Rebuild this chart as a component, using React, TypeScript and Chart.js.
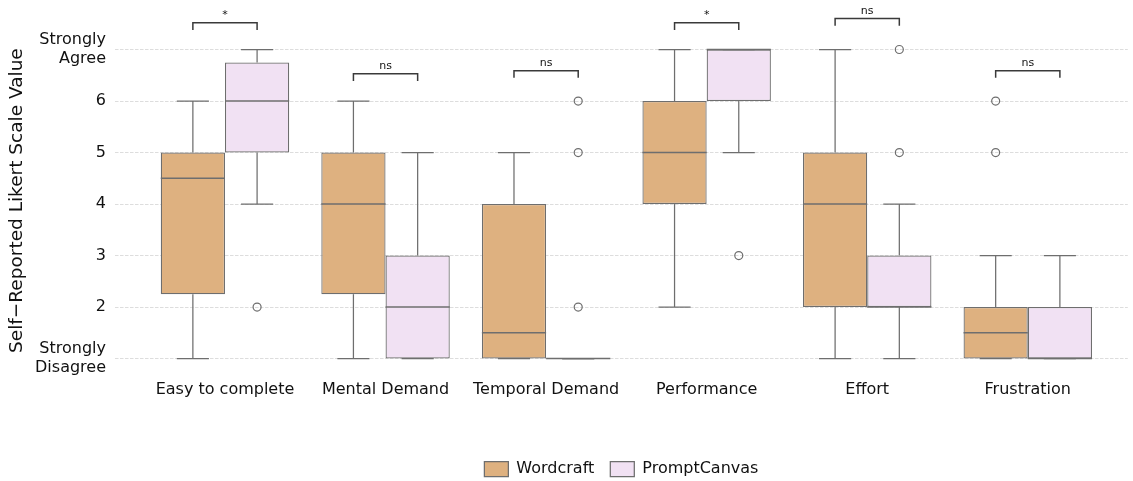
import React, { useEffect, useRef } from 'react';
import { Chart, registerables } from 'chart.js';

Chart.register(...registerables);

const categories = ['Easy to complete', 'Mental Demand', 'Temporal Demand', 'Performance', 'Effort', 'Frustration'];
const seriesNames = ['Wordcraft', 'PromptCanvas'];

const wordcraftLow = [1, 1, 1, 2, 1, 1];
const wordcraftQ1 = [2.25, 2.25, 1, 4, 2, 1];
const wordcraftMedian = [4.5, 4, 1.5, 5, 4, 1.5];
const wordcraftQ3 = [5, 5, 4, 6, 5, 2];
const wordcraftHigh = [6, 6, 5, 7, 7, 3];
const wordcraftOutliers = [[], [], [], [], [], [5, 6]];

const promptLow = [4, 1, 1, 5, 1, 1];
const promptQ1 = [5, 1, 1, 6, 2, 1];
const promptMedian = [6, 2, 1, 7, 2, 1];
const promptQ3 = [6.75, 3, 1, 7, 3, 2];
const promptHigh = [7, 5, 1, 7, 4, 3];
const promptOutliers = [[2], [], [2, 5, 6], [3], [5, 7], []];

const bracketY = [7.52, 6.53, 6.59, 7.52, 7.6, 6.59];
const bracketLabels = ['*', 'ns', 'ns', '*', 'ns', 'ns'];

const yTickValues = [1, 2, 3, 4, 5, 6, 7];
const yTickLabels: (string | string[])[] = [['Strongly', 'Disagree'], '2', '3', '4', '5', '6', ['Strongly', 'Agree']];

const FONT = 'DejaVu Sans';
const EDGE = '#6e6e6e';
const FILLS = ['#DEB180', '#F1E1F3'];
const GROUP = 0.8;
const seriesOffset = [-GROUP / 4, GROUP / 4];

const stats = [
  { low: wordcraftLow, q1: wordcraftQ1, med: wordcraftMedian, q3: wordcraftQ3, high: wordcraftHigh, out: wordcraftOutliers },
  { low: promptLow, q1: promptQ1, med: promptMedian, q3: promptQ3, high: promptHigh, out: promptOutliers },
];

const boxPlugin = {
  id: 'boxExtras',
  afterDatasetsDraw(chart: any) {
    const { ctx, scales } = chart;
    const y = scales.y;
    const line = (x1: number, y1: number, x2: number, y2: number) => {
      ctx.beginPath();
      ctx.moveTo(x1, y1);
      ctx.lineTo(x2, y2);
      ctx.stroke();
    };
    ctx.save();
    ctx.strokeStyle = EDGE;
    ctx.lineWidth = 1.25;
    stats.forEach((s, si) => {
      const meta = chart.getDatasetMeta(si);
      meta.data.forEach((bar: any, i: number) => {
        const { x: cx, width } = bar.getProps(['x', 'width'], true);
        const half = width / 2;
        const pHigh = y.getPixelForValue(s.high[i]);
        const pLow = y.getPixelForValue(s.low[i]);
        line(cx, y.getPixelForValue(s.q3[i]), cx, pHigh);
        line(cx, y.getPixelForValue(s.q1[i]), cx, pLow);
        line(cx - half / 2, pHigh, cx + half / 2, pHigh);
        line(cx - half / 2, pLow, cx + half / 2, pLow);
        ctx.lineWidth = 1.5;
        const pMed = y.getPixelForValue(s.med[i]);
        line(cx - half, pMed, cx + half, pMed);
        ctx.lineWidth = 1.25;
      });
    });
    ctx.restore();
  },
  afterDraw(chart: any) {
    const { ctx, scales } = chart;
    const { x, y } = scales;
    ctx.save();
    ctx.strokeStyle = '#3a3a3a';
    ctx.lineWidth = 1.5;
    ctx.fillStyle = '#111';
    ctx.font = `11px "${FONT}"`;
    ctx.textAlign = 'center';
    ctx.textBaseline = 'bottom';
    categories.forEach((_, i) => {
      const x1 = x.getPixelForValue(i + seriesOffset[0]);
      const x2 = x.getPixelForValue(i + seriesOffset[1]);
      const yb = y.getPixelForValue(bracketY[i]);
      const yl = y.getPixelForValue(bracketY[i] - 0.14);
      ctx.beginPath();
      ctx.moveTo(x1, yl);
      ctx.lineTo(x1, yb);
      ctx.lineTo(x2, yb);
      ctx.lineTo(x2, yl);
      ctx.stroke();
      ctx.fillText(bracketLabels[i], (x1 + x2) / 2, yb - 2);
    });
    ctx.restore();
  },
};

export default function App() {
  const ref = useRef<HTMLCanvasElement | null>(null);
  useEffect(() => {
    if (!ref.current) return;
    const boxDatasets = stats.map((s, si) => ({
      type: 'bar' as const,
      label: seriesNames[si],
      data: categories.map((_, i) => ({ x: i, y: [s.q1[i], s.q3[i]] })),
      backgroundColor: FILLS[si],
      borderColor: EDGE,
      borderWidth: 1.25,
      borderSkipped: false,
      categoryPercentage: GROUP,
      barPercentage: 1,
    }));
    const outlierDatasets = stats.map((s, si) => ({
      type: 'scatter' as const,
      label: seriesNames[si] + ' outliers',
      data: s.out.flatMap((vals, i) => vals.map((v) => ({ x: i + seriesOffset[si], y: v }))),
      pointRadius: 4,
      pointBorderWidth: 1.2,
      pointBorderColor: EDGE,
      pointBackgroundColor: 'rgba(255,255,255,0)',
      showLine: false,
    }));
    const chart = new Chart(ref.current, {
      type: 'bar',
      data: { datasets: [...boxDatasets, ...outlierDatasets] as any },
      options: {
        animation: false,
        responsive: false,
        layout: { padding: { left: 0, right: 0, top: 0, bottom: -6 } },
        plugins: {
          tooltip: { enabled: false },
          legend: {
            position: 'bottom',
            fullSize: false,
            labels: {
              filter: (item: any) => item.datasetIndex < 2,
              boxWidth: 24,
              boxHeight: 15,
              padding: 16,
              color: '#111',
              font: { family: FONT, size: 16 },
            },
          },
        },
        scales: {
          x: {
            type: 'linear',
            offset: false,
            min: -0.685,
            max: 5.623,
            grid: { display: false, drawTicks: false },
            border: { display: false },
            afterBuildTicks: (scale: any) => {
              scale.ticks = categories.map((_, i) => ({ value: i }));
            },
            afterFit: (scale: any) => {
              scale.height = 72;
            },
            ticks: {
              autoSkip: false,
              maxRotation: 0,
              padding: 7,
              color: '#111',
              font: { family: FONT, size: 16 },
              callback: (v: any) => categories[Math.round(Number(v))] ?? '',
            },
          },
          y: {
            type: 'linear',
            min: 0.72,
            max: 7.414,
            afterBuildTicks: (scale: any) => {
              scale.ticks = yTickValues.map((v) => ({ value: v }));
            },
            afterFit: (scale: any) => {
              scale.width = 115;
            },
            grid: { color: '#d4d4d4', lineWidth: 0.8, drawTicks: false },
            border: { display: false, dash: [3.5, 1.5] },
            ticks: {
              padding: 9,
              color: '#111',
              font: { family: FONT, size: 16 },
              callback: (_v: any, idx: number) => yTickLabels[idx],
            },
            title: {
              display: true,
              text: 'Self−Reported Likert Scale Value',
              color: '#111',
              font: { family: FONT, size: 18.5 },
              padding: { top: 6, bottom: 0 },
            },
          },
        },
      },
      plugins: [boxPlugin],
    } as any);
    return () => chart.destroy();
  }, []);
  return (
    <div style={{ position: 'absolute', left: 0, top: 0, width: 1133, height: 481, background: '#fff' }}>
      <canvas ref={ref} width={1133} height={481} />
    </div>
  );
}
